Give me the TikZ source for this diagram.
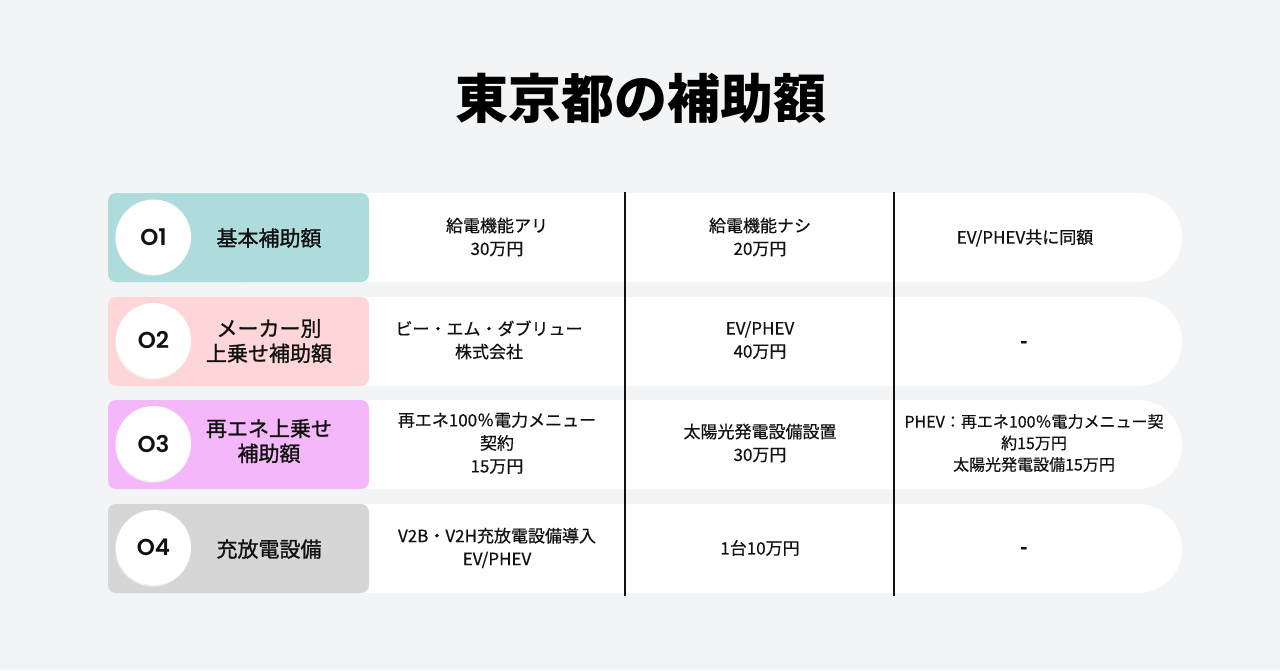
\documentclass[tikz,border=0pt]{standalone}
\usepackage{fontspec}
\setmainfont{Noto Sans CJK JP}
\IfFontExistsTF{Poppins SemiBold}{\newfontfamily\pop{Poppins SemiBold}}{%
  \IfFontExistsTF{Poppins Medium}{\newfontfamily\pop{Poppins Medium}}{\newfontfamily\pop{Poppins}[UprightFont=*-Bold]}}
\newfontfamily\jpmed{Noto Sans CJK JP}[FakeBold=1.2]
\newfontfamily\jpcell{Noto Sans CJK JP}[FakeBold=0.5]
\definecolor{bg}{HTML}{F3F4F6}
\definecolor{c1}{HTML}{AEDCDC}
\definecolor{c2}{HTML}{FFD6D7}
\definecolor{c3}{HTML}{F4B8FA}
\definecolor{c4}{HTML}{D6D6D6}
\definecolor{ink}{HTML}{111111}
\tikzset{
  rowbg/.style={fill=white, draw=none, rounded corners=44pt},
  tagbox/.style={draw=none, rounded corners=8pt},
  numcirc/.style={circle, fill=white, minimum size=75pt, inner sep=0pt, font=\pop\fontsize{23}{23}\selectfont, text=ink},
  tagtxt/.style={align=center, font=\jpmed\fontsize{21}{25}\selectfont, text=ink, inner sep=0pt},
  celltxt/.style={align=center, font=\jpcell\fontsize{17}{23}\selectfont, text=ink, inner sep=0pt},
  dashtxt/.style={font=\bfseries\fontsize{20}{20}\selectfont, text=ink, inner sep=0pt},
  sep/.style={draw=ink, line width=2pt},
}
\begin{document}
\begin{tikzpicture}[x=1pt,y=-1pt]
\useasboundingbox[fill=bg] (0,0) rectangle (1280,670);
\node[font=\bfseries\fontsize{53}{53}\selectfont, text=black] (title) at (641,98) {東京都の補助額};
% rows
\foreach \t/\c in {193/c1, 297/c2, 400/c3, 504/c4}{
  \fill[rowbg] (200,\t) rectangle (1182,\t+89);
  \fill[tagbox, fill=\c] (108,\t) rectangle (369,\t+89);
  \fill[black!5] (152.8,\t+45) circle (37.5pt);
}
% circles
\node[numcirc] (n1) at (153.5,237) {O1};
\node[numcirc] (n2) at (153.5,340.5) {O2};
\node[numcirc] (n3) at (153.5,443.5) {O3};
\node[numcirc] (n4) at (153.5,547.5) {O4};
% tag labels
\node[tagtxt] (t1) at (269,238) {基本補助額};
\node[tagtxt] (t2) at (269,341) {メーカー別\\上乗せ補助額};
\node[tagtxt] (t3) at (269,441) {再エネ上乗せ\\補助額};
\node[tagtxt] (t4) at (269,549) {充放電設備};
% separators
\coordinate (s1a) at (625,192); \coordinate (s1b) at (625,596);
\coordinate (s2a) at (894,192); \coordinate (s2b) at (894,596);
\draw[sep] (s1a) -- (s1b);
\draw[sep] (s2a) -- (s2b);
% cells
\node[celltxt] (a1) at (497,237) {給電機能アリ\\30万円};
\node[celltxt] (b1) at (760,237) {給電機能ナシ\\20万円};
\node[celltxt] (c1n) at (1025,238) {EV/PHEV共に同額};
\node[celltxt] (a2) at (489,340) {ビー・エム・ダブリュー\\株式会社};
\node[celltxt] (b2) at (760,340) {EV/PHEV\\40万円};
\node[dashtxt] (c2n) at (1024,345) {-};
\node[celltxt] (a3) at (497,443) {再エネ100％電力メニュー\\契約\\15万円};
\node[celltxt] (b3) at (760,443) {太陽光発電設備設置\\30万円};
\node[celltxt,font=\jpcell\fontsize{16}{21.5}\selectfont] (c3n) at (1034,443) {PHEV：再エネ100％電力メニュー契\\約15万円\\太陽光発電設備15万円};
\node[celltxt] (a4) at (497,548) {V2B・V2H充放電設備導入\\EV/PHEV};
\node[celltxt] (b4) at (760,548) {1台10万円};
\node[dashtxt] (c4n) at (1024,551) {-};
\end{tikzpicture}
\end{document}
